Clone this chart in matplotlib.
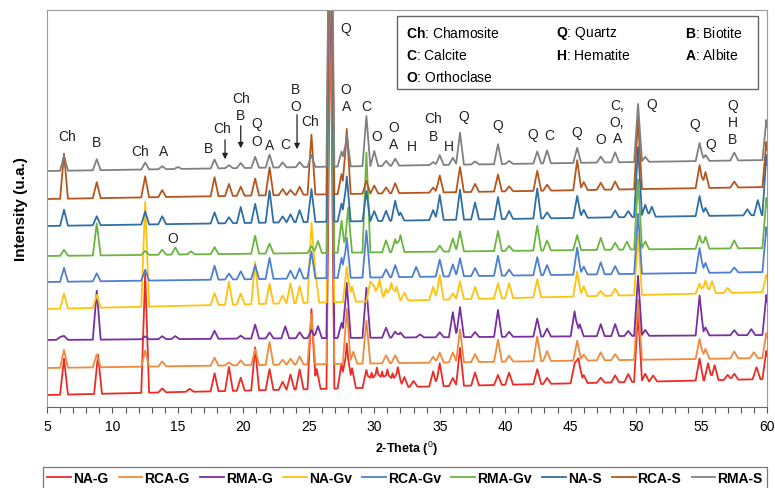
import numpy as np
import matplotlib
matplotlib.use("Agg")
import matplotlib.pyplot as plt
from matplotlib.patches import Rectangle

plt.rcParams['font.family'] = ['Liberation Sans', 'DejaVu Sans']
plt.rcParams['mathtext.fontset'] = 'custom'
plt.rcParams['mathtext.rm'] = 'Liberation Sans'
plt.rcParams['mathtext.bf'] = 'Liberation Sans:bold'

# ---------------- data ----------------
series_names = ["NA-G", "RCA-G", "RMA-G", "NA-Gv", "RCA-Gv", "RMA-Gv", "NA-S", "RCA-S", "RMA-S"]
series_colors = ["#ec2b25", "#f08a3c", "#7a2fa0", "#ffc20e", "#4f7fd0", "#6bb53f", "#2f6ea6", "#b5561d", "#808080"]

# baseline level (arbitrary offset units) at 2θ=5 and 2θ=60
base_left = [12, 39, 67, 98, 125, 151, 181, 208, 236]
base_right = [28, 49, 72, 115, 135, 159, 192, 220, 247]

NA_G_pos = [6.3, 8.9, 12.5, 13.8, 15.9, 17.8, 18.9, 19.8, 20.9, 22.0, 23.0, 23.6, 24.3, 25.2, 25.6, 26.65, 27.5, 27.9, 28.3,
            29.4, 29.8, 30.2, 30.6, 31.0, 31.4, 31.8, 32.3, 33.0, 34.5, 35.0, 36.0, 36.55, 37.7, 39.45, 40.3, 42.45, 43.2,
            45.3, 45.6, 46.0, 47.3, 48.4, 49.4, 50.15, 50.7, 51.3, 54.85, 55.5, 56.0, 57.0, 57.5, 59.2, 59.95]
NA_G_int = [36, 39, 119, 4, 3, 18, 24, 13, 43, 21, 8, 15, 20, 80, 20, 400, 25, 45, 20,
            18, 15, 20, 16, 18, 14, 20, 10, 6, 15, 23, 8, 38, 13, 10, 12, 15, 6,
            20, 25, 8, 5, 7, 8, 70, 8, 6, 22, 17, 15, 5, 6, 12, 28]

RCA_G_pos = [6.3, 8.8, 12.5, 13.8, 17.8, 18.9, 19.8, 20.9, 22.0, 23.0, 23.6, 24.3, 25.2, 26.65, 27.9, 28.4, 29.4, 30.9,
             31.6, 34.5, 35.0, 36.0, 36.55, 37.7, 39.45, 40.3, 42.45, 43.2, 45.5, 46.0, 47.3, 48.4, 50.15, 54.85, 55.3,
             57.5, 59.0, 59.95]
RCA_G_int = [18, 13, 16, 5, 8, 3, 5, 16, 23, 5, 6, 8, 50, 400, 55, 12, 43, 8,
             8, 6, 10, 10, 33, 8, 22, 6, 25, 10, 20, 6, 8, 6, 60, 20, 10,
             7, 6, 25]

RMA_G_pos = [6.0, 6.3, 8.8, 12.5, 13.8, 14.8, 17.8, 19.8, 20.9, 22.0, 23.2, 24.3, 25.2, 25.7, 26.65, 27.5, 27.9, 29.4,
             30.9, 31.6, 32.0, 33.5, 35.0, 36.0, 36.55, 37.7, 39.45, 40.3, 42.45, 43.2, 45.3, 45.7, 47.3, 48.4, 49.4,
             50.15, 50.7, 54.85, 55.3, 57.5, 58.8, 59.95]
RMA_G_int = [3, 4, 49, 3, 3, 3, 8, 3, 14, 6, 12, 6, 8, 12, 400, 15, 55, 50,
             10, 6, 5, 3, 5, 25, 30, 5, 27, 5, 18, 8, 25, 12, 12, 12, 5,
             60, 6, 40, 8, 5, 6, 40]

NA_Gv_pos = [6.3, 8.8, 12.5, 17.8, 18.9, 19.8, 20.9, 22.0, 23.0, 23.6, 24.3, 25.2, 25.5, 26.65, 27.9, 28.3, 29.7, 30.0,
             30.4, 30.9, 31.3, 31.7, 32.3, 34.5, 35.0, 36.0, 36.55, 37.7, 39.45, 40.3, 42.45, 45.5, 46.0, 47.3, 48.4,
             50.15, 54.85, 55.3, 55.8, 57.0, 59.95]
NA_Gv_int = [15, 13, 105, 12, 23, 11, 42, 20, 8, 20, 17, 80, 30, 400, 35, 15, 20, 15,
             22, 12, 18, 14, 8, 13, 25, 6, 18, 12, 15, 15, 18, 25, 10, 5, 7,
             60, 10, 13, 12, 5, 17]

RCA_Gv_pos = [6.3, 8.8, 12.5, 17.8, 18.9, 19.8, 20.9, 22.0, 23.6, 24.3, 25.2, 26.65, 27.5, 27.9, 29.4, 30.9, 31.6, 33.2,
              35.0, 36.0, 36.55, 37.7, 39.45, 40.3, 42.45, 43.2, 45.5, 46.0, 47.3, 48.4, 50.15, 54.85, 55.3, 57.5, 59.95]
RCA_Gv_int = [14, 8, 11, 14, 6, 8, 14, 21, 8, 10, 27, 400, 20, 40, 47, 8, 12, 10,
              17, 12, 18, 8, 20, 6, 18, 10, 27, 8, 12, 8, 60, 25, 10, 5, 45]

RMA_Gv_pos = [6.3, 8.8, 12.5, 13.8, 14.8, 16.0, 17.8, 20.9, 22.0, 25.2, 25.7, 26.65, 27.5, 28.0, 29.4, 30.9, 31.6, 32.0,
              35.0, 36.0, 36.55, 39.45, 40.3, 42.45, 43.2, 45.5, 47.3, 48.4, 49.3, 50.15, 50.7, 54.85, 55.3, 57.5, 59.95]
RMA_Gv_int = [6, 32, 4, 5, 7, 3, 7, 18, 10, 7, 12, 400, 32, 45, 100, 12, 13, 17,
              6, 13, 20, 20, 5, 25, 10, 15, 12, 7, 8, 70, 8, 13, 12, 8, 50]

NA_S_pos = [6.3, 8.8, 12.5, 13.8, 17.8, 18.9, 19.8, 20.9, 22.0, 23.0, 23.6, 24.3, 25.2, 26.65, 27.5, 27.9, 29.4, 30.0,
            30.9, 31.6, 32.0, 34.5, 35.0, 36.55, 37.7, 39.45, 40.3, 42.45, 43.2, 45.5, 46.0, 48.4, 49.4, 50.15, 50.7,
            51.2, 54.85, 55.3, 58.5, 59.3, 59.95]
NA_S_int = [16, 9, 13, 8, 11, 6, 16, 19, 32, 6, 8, 12, 33, 400, 18, 45, 30, 10,
            10, 20, 8, 10, 25, 30, 17, 22, 8, 30, 6, 22, 8, 7, 6, 70, 12,
            10, 20, 8, 6, 15, 60]

RCA_S_pos = [6.3, 8.8, 12.5, 13.8, 17.8, 18.9, 19.8, 20.9, 22.0, 23.0, 23.6, 24.3, 25.2, 26.65, 27.5, 27.9, 29.4, 30.0,
             30.9, 31.6, 34.5, 35.0, 36.55, 37.7, 39.45, 40.3, 42.45, 43.2, 45.5, 46.0, 47.3, 48.4, 50.15, 54.85, 55.3,
             57.5, 59.95]
RCA_S_int = [45, 16, 21, 7, 19, 12, 9, 17, 28, 6, 5, 8, 60, 400, 20, 65, 13, 8,
             6, 10, 5, 17, 25, 8, 17, 5, 20, 6, 30, 8, 7, 8, 70, 23, 16,
             6, 45]

RMA_S_pos = [6.3, 8.8, 12.5, 13.8, 15.0, 17.8, 18.9, 19.8, 20.9, 22.0, 23.0, 24.3, 25.2, 26.65, 27.5, 27.9, 29.4, 30.0,
             30.9, 31.6, 34.5, 35.0, 36.0, 36.55, 37.7, 39.45, 40.3, 42.45, 43.2, 45.5, 47.3, 48.4, 50.15, 50.7, 54.85,
             55.3, 57.5, 59.95]
RMA_S_int = [15, 11, 7, 3, 2, 9, 3, 5, 11, 13, 5, 5, 12, 400, 15, 32, 50, 15,
             5, 7, 3, 10, 7, 32, 3, 20, 3, 12, 13, 15, 6, 10, 58, 5, 18,
             6, 8, 40]

peak_positions = [NA_G_pos, RCA_G_pos, RMA_G_pos, NA_Gv_pos, RCA_Gv_pos, RMA_Gv_pos, NA_S_pos, RCA_S_pos, RMA_S_pos]
peak_heights = [NA_G_int, RCA_G_int, RMA_G_int, NA_Gv_int, RCA_Gv_int, RMA_Gv_int, NA_S_int, RCA_S_int, RMA_S_int]

# phase labels: (text, 2θ, level)
phase_labels = [
    ("Ch", 6.5, 271), ("B", 8.75, 265), ("Ch", 12.1, 256), ("A", 13.9, 256), ("B", 17.3, 259),
    ("Ch", 18.4, 279), ("Ch", 19.8, 309), ("B", 19.8, 292), ("Q", 21.0, 284), ("O", 21.0, 266),
    ("A", 22.0, 262), ("C", 23.2, 263), ("B", 24.0, 318), ("O", 24.0, 301), ("Ch", 25.1, 286),
    ("Q", 27.85, 379), ("O", 27.85, 318), ("A", 27.85, 301), ("C", 29.4, 301), ("O", 30.2, 271),
    ("O", 31.45, 280), ("A", 31.45, 263), ("H", 32.9, 261), ("Ch", 34.5, 289), ("B", 34.5, 271),
    ("H", 35.7, 261), ("Q", 36.8, 291), ("Q", 39.45, 282), ("Q", 42.1, 273), ("C", 43.35, 272),
    ("Q", 45.5, 275), ("O", 47.3, 268), ("C,", 48.55, 302), ("O,", 48.55, 285), ("A", 48.55, 269),
    ("Q", 51.2, 303), ("Q", 54.5, 283), ("Q", 55.7, 263), ("Q", 57.4, 302), ("H", 57.4, 285),
    ("B", 57.4, 268), ("O", 14.6, 169),
]
# arrows: (2θ, level from, level to)
arrows = [(18.6, 270, 245), (19.8, 284, 256), (24.1, 295, 255)]

legend_entries = [("Ch", "Chamosite"), ("Q", "Quartz"), ("B", "Biotite"),
                  ("C", "Calcite"), ("H", "Hematite"), ("A", "Albite"),
                  ("O", "Orthoclase")]

# ---------------- figure ----------------
W, H = 775, 489
fig = plt.figure(figsize=(W / 100, H / 100), dpi=100)
ax = fig.add_axes([47 / W, 1 - 408 / H, (767 - 47) / W, (408 - 11) / H])

x = np.linspace(5, 60, 5501)
HW = 0.3
for name, col, bl, br, pos, hts in zip(series_names, series_colors, base_left, base_right,
                                        peak_positions, peak_heights):
    y = bl + (br - bl) * (x - 5) / 55.0
    for p, h in zip(pos, hts):
        y = y + h * np.clip(1 - np.abs(x - p) / HW, 0, None)
    ax.plot(x, y, color=col, lw=1.3, label=name, solid_joinstyle='round')

ax.set_xlim(5, 60)
ax.set_ylim(0, 397)
ax.set_xticks(np.arange(5, 61, 5))
ax.set_xticks(np.arange(5, 61, 1), minor=True)
ax.set_yticks([])
ax.tick_params(axis='x', which='both', direction='out', length=4, width=0.8, colors='#555555',
               labelsize=10, labelcolor='black', pad=5)
for s in ['top', 'right', 'left']:
    ax.spines[s].set_color('#9a9a9a')
ax.spines['bottom'].set_color('#666666')

ax.set_xlabel("2-Theta ($^{0}$)", fontsize=9, fontweight='bold', labelpad=4)
ax.set_ylabel("Intensity (u.a.)", fontsize=11, fontweight='bold', labelpad=14)

for t, xx, yy in phase_labels:
    ax.text(xx, yy, t, fontsize=10, ha='center', va='center', color='#222222')
for xx, y0, y1 in arrows:
    ax.annotate("", xy=(xx, y1), xytext=(xx, y0),
                arrowprops=dict(arrowstyle='-|>', color='#222222', lw=0.9, mutation_scale=8))

# inner phase legend box
fig.patches.append(Rectangle((397 / W, 1 - 90 / H), (758 - 397) / W, (90 - 17) / H,
                             transform=fig.transFigure, fill=True, facecolor='white',
                             edgecolor='#666666', lw=1.0, zorder=5))
cols_x = [406, 556, 685]
rows_y = [33, 55, 78]
for i, (ab, full) in enumerate(legend_entries):
    cx = cols_x[i % 3]
    cy = rows_y[i // 3]
    fig.text(cx / W, 1 - cy / H, r"$\mathbf{" + ab + "}$: " + full, fontsize=10,
             ha='left', va='center', zorder=6)

# bottom legend
leg = fig.legend(loc='center', bbox_to_anchor=(405 / W, 1 - 479 / H), ncol=9, fontsize=10,
                 frameon=True, fancybox=False, edgecolor='#555555', handlelength=1.7,
                 handletextpad=0.15, columnspacing=0.75, borderpad=0.3)
leg.get_frame().set_linewidth(0.9)
for t in leg.get_texts():
    t.set_fontweight('bold')

fig.savefig("out.png", dpi=100)
